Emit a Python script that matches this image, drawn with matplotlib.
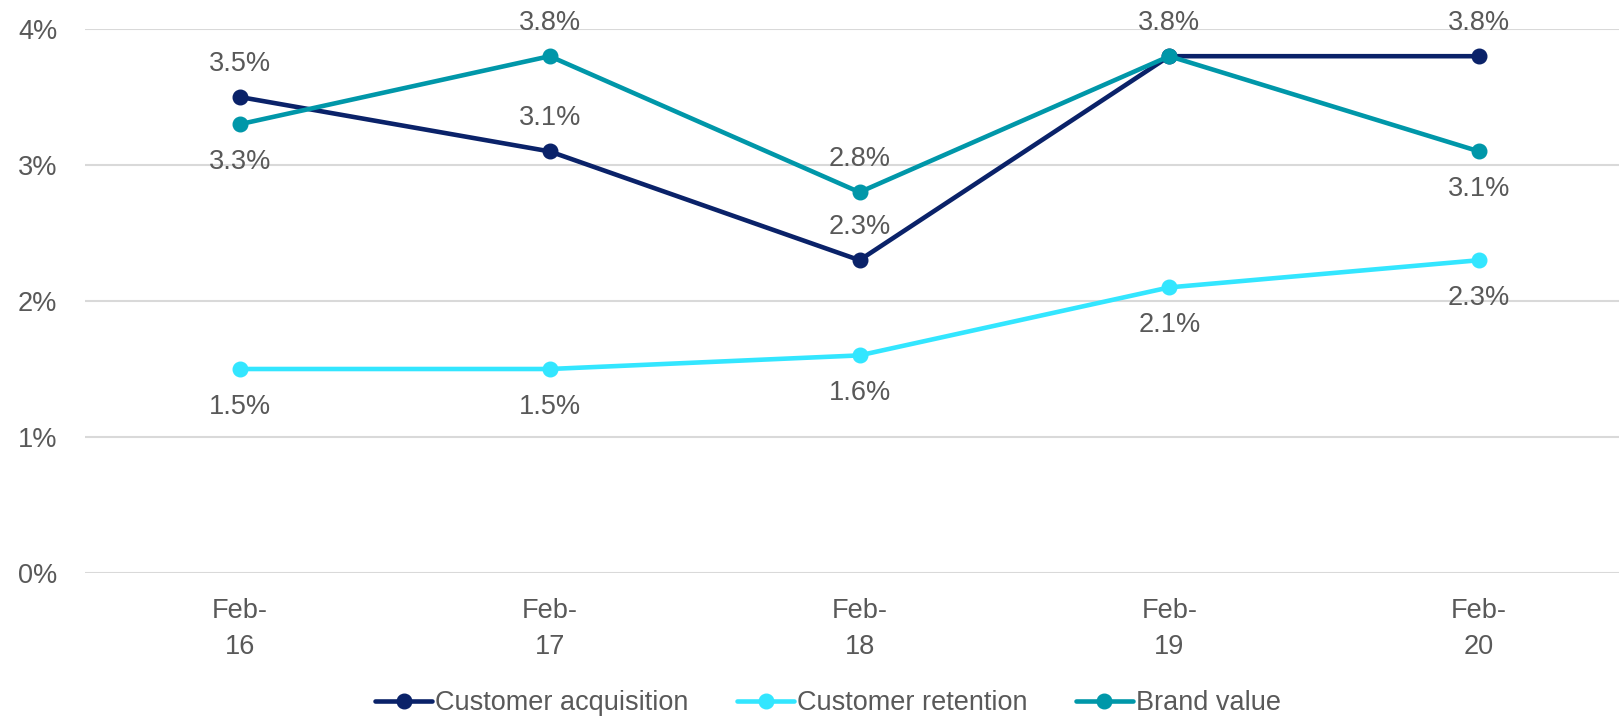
import numpy as np
from matplotlib import pyplot as plt

# chart data
months = ["Feb-\n16", "Feb-\n17", "Feb-\n18", "Feb-\n19", "Feb-\n20"]
acquisition = [3.5, 3.1, 2.3, 3.8, 3.8]
retention = [1.5, 1.5, 1.6, 2.1, 2.3]
brand_value = [3.3, 3.8, 2.8, 3.8, 3.1]

# where the value labels sit: +1 above the point, -1 below, 0 no label
acq_pos = [1, 1, 1, 1, 1]
ret_pos = [-1, -1, -1, -1, -1]
brand_pos = [-1, 1, 1, 0, -1]

NAVY = "#0a2269"
CYAN = "#33e6ff"
TEAL = "#0097a9"
TEXT = "#595959"

plt.rcParams['font.family'] = ['Liberation Sans', 'DejaVu Sans']

fig = plt.figure(figsize=(16.19, 7.17), dpi=100)
# plot area runs a little past the right edge of the picture
ax = fig.add_axes([85 / 1619, 144 / 717, 1549 / 1619, 544 / 717])

x = np.arange(len(months))
series = [
    ("Customer acquisition", acquisition, NAVY, acq_pos),
    ("Customer retention", retention, CYAN, ret_pos),
    ("Brand value", brand_value, TEAL, brand_pos),
]

for name, vals, col, pos in series:
    ax.plot(x, vals, color=col, lw=3.3, marker="o", ms=10.5, label=name,
            solid_capstyle="round", zorder=3)

for name, vals, col, pos in series:
    for xi, v, p in zip(x, vals, pos):
        if p == 0:
            continue
        ax.annotate(f"{v:.1f}%", (xi, v), xytext=(0, 24 * p if p > 0 else -27),
                    textcoords="offset points", ha="center", va="center",
                    fontsize=19.5, color=TEXT, zorder=4)

ax.set_xlim(-0.5, 4.5)
ax.set_ylim(0, 4)
ax.set_yticks([0, 1, 2, 3, 4])
ax.set_yticklabels([f"{t}%" for t in range(5)])
ax.set_xticks(x)
ax.set_xticklabels(months, linespacing=1.5)

ax.grid(axis="y", color="#d9d9d9", lw=1.5)
ax.set_axisbelow(True)
for s in ax.spines.values():
    s.set_visible(False)
ax.tick_params(length=0, labelsize=19.5, labelcolor=TEXT)
ax.tick_params(axis="y", pad=20)
ax.tick_params(axis="x", pad=18)

leg = ax.legend(loc="center", bbox_to_anchor=(828 / 1619, 1 - 703 / 717),
                bbox_transform=fig.transFigure, ncol=3, frameon=False,
                fontsize=19.5, handlelength=2.1, handletextpad=0.1,
                columnspacing=1.8, labelcolor=TEXT)

fig.savefig("out.png", dpi=100)
